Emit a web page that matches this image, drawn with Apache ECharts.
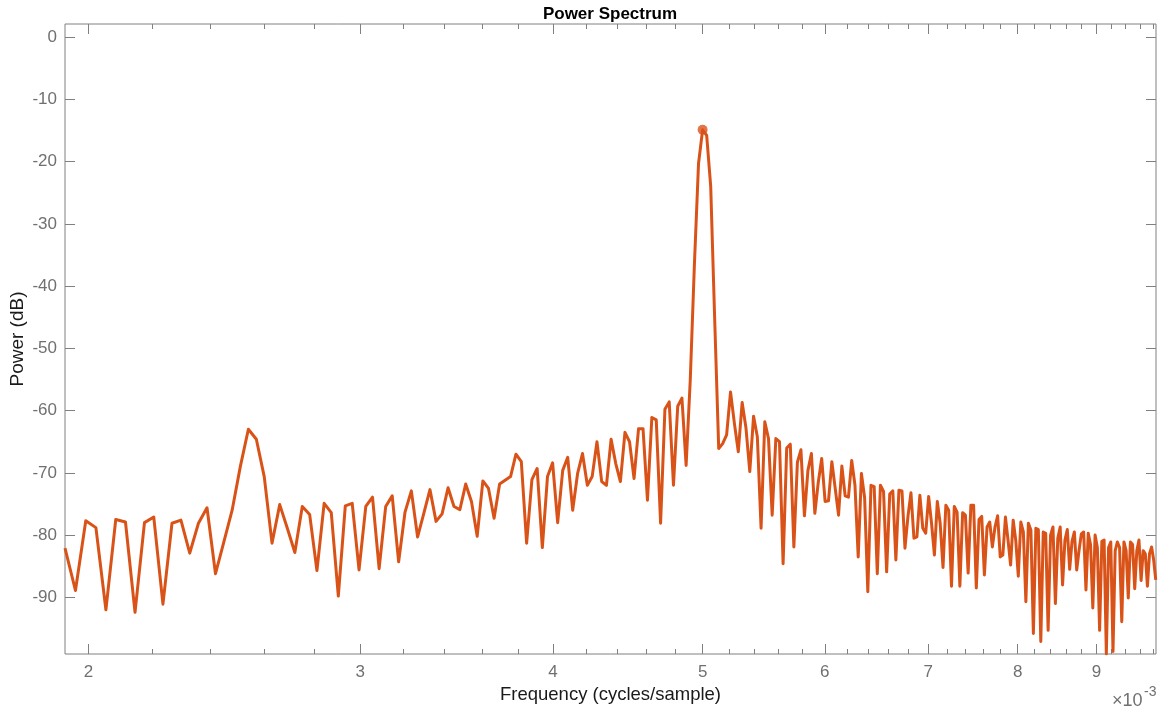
<!DOCTYPE html>
<html>
<head>
<meta charset="utf-8">
<title>Power Spectrum</title>
<script src="https://cdn.jsdelivr.net/npm/echarts@6/dist/echarts.min.js"></script>
<style>
  html, body { margin: 0; padding: 0; background: #ffffff; }
  #chart { width: 1168px; height: 711px; }
</style>
</head>
<body>
<div id="chart"></div>
<script>
// Frequency bins, in units of 1e-3 cycles/sample (uniform FFT grid)
const FREQ_START = 1.931;
const FREQ_STEP = 0.030386;

// Power per bin (dB)
const power = [
  -82.1, -88.9, -77.7, -78.8, -92.0, -77.5, -77.9, -92.4, -78.0, -77.1,
  -91.1, -78.1, -77.6, -82.9, -78.1, -75.6, -86.2, -81.1, -76.0, -69.0,
  -63.0, -64.6, -70.6, -81.3, -75.1, -78.9, -82.8, -75.4, -76.7, -85.7,
  -74.9, -76.4, -89.8, -75.3, -74.9, -85.6, -75.4, -73.9, -85.4, -75.4,
  -73.7, -84.3, -76.3, -72.9, -80.3, -76.5, -72.7, -77.8, -76.6, -72.4,
  -75.4, -75.9, -71.8, -74.6, -80.2, -71.3, -72.5, -77.3, -71.8, -71.2,
  -70.6, -67.0, -68.2, -81.3, -71.1, -69.3, -82.0, -70.6, -68.4, -78.0,
  -69.6, -67.5, -76.0, -70.1, -66.9, -72.0, -70.6, -65.0, -71.4, -72.0,
  -64.6, -68.5, -71.4, -63.5, -65.0, -70.9, -62.9, -62.9, -74.4, -61.1,
  -61.5, -78.1, -59.8, -58.6, -72.0, -59.3, -58.0, -68.8, -55.0, -36.5,
  -20.3, -14.9, -15.8, -24.0, -45.5, -66.1, -65.3, -63.9, -57.0, -62.1,
  -66.6, -58.7, -62.8, -69.8, -60.9, -64.2, -78.9, -61.8, -64.5, -76.8,
  -64.5, -65.0, -84.6, -66.0, -65.4, -81.9, -68.3, -66.3, -76.9, -69.6,
  -66.9, -76.5, -71.5, -67.7, -74.6, -74.5, -68.2, -72.5, -76.8, -68.9,
  -73.7, -73.9, -68.0, -72.0, -83.5, -70.1, -74.0, -89.1, -72.0, -72.2,
  -86.2, -72.0, -73.0, -85.9, -73.4, -72.9, -84.0, -72.8, -72.9, -82.1,
  -77.0, -73.2, -80.5, -80.3, -73.6, -78.9, -79.7, -73.8, -78.1, -83.2,
  -74.6, -78.1, -85.2, -75.2, -76.0, -88.2, -75.4, -76.3, -88.2, -76.4,
  -76.8, -86.1, -75.2, -75.2, -88.5, -77.5, -77.0, -86.4, -78.7, -77.9,
  -81.9, -78.7, -76.9, -83.5, -83.2, -77.1, -80.8, -84.8, -77.6, -80.8,
  -86.6, -77.9, -79.5, -90.7, -78.1, -79.2, -95.8, -78.9, -79.1, -97.1,
  -79.5, -79.7, -95.3, -80.0, -78.7, -91.0, -80.5, -78.7, -88.0, -80.8,
  -79.1, -85.5, -81.0, -79.5, -85.6, -82.5, -79.8, -79.5, -88.8, -79.7,
  -81.5, -91.7, -80.0, -82.0, -95.3, -81.0, -80.8, -99.1, -82.0, -81.1,
  -98.7, -82.5, -81.1, -82.0, -93.9, -81.1, -82.5, -90.1, -81.1, -81.5,
  -88.6, -82.5, -80.8, -87.3, -82.5, -83.0, -88.2, -83.0, -81.9, -84.0,
  -87.2
];

// Axis ticks
const xMajorTicks = [2, 3, 4, 5, 6, 7, 8, 9];
const xMinorTicks = [2.2, 2.4, 2.6, 2.8, 3.2, 3.4, 3.6, 3.8, 4.2, 4.4, 4.6, 4.8,
                     5.2, 5.4, 5.6, 5.8, 6.2, 6.4, 6.6, 6.8, 7.2, 7.4, 7.6, 7.8,
                     8.2, 8.4, 8.6, 8.8, 9.2, 9.4, 9.6, 9.8];
const yTicks = [-90, -80, -70, -60, -50, -40, -30, -20, -10, 0];

const X_RANGE = [1.931, 9.835];
const Y_RANGE = [-99.1, 2.1];

const FONT = '"Liberation Sans", Arial, Helvetica, sans-serif';
const AXIS_GRAY = '#808080';
const LABEL_GRAY = '#707070';
const LINE_COLOR = '#D95319';

const freq = power.map((_, i) => FREQ_START + i * FREQ_STEP);
const lineData = freq.map((f, i) => [f, power[i]]);
const peakIdx = power.indexOf(Math.max(...power));
const peakData = [[freq[peakIdx], power[peakIdx]]];

function xAxisDef(position, ticks, tickLen, withLabels) {
  return {
    type: 'log',
    logBase: 10,
    gridIndex: 0,
    position: position,
    min: X_RANGE[0],
    max: X_RANGE[1],
    axisLine: { show: false, onZero: false },
    splitLine: { show: false },
    minorTick: { show: false },
    axisTick: {
      show: true,
      inside: true,
      length: tickLen,
      customValues: ticks,
      lineStyle: { color: AXIS_GRAY, width: 1 }
    },
    axisLabel: withLabels ? {
      show: true,
      customValues: ticks,
      margin: 10,
      color: LABEL_GRAY,
      fontSize: 17,
      fontFamily: FONT
    } : { show: false }
  };
}

function yAxisDef(position, withLabels) {
  return {
    type: 'value',
    gridIndex: 0,
    position: position,
    min: Y_RANGE[0],
    max: Y_RANGE[1],
    axisLine: { show: false, onZero: false },
    splitLine: { show: false },
    axisTick: {
      show: true,
      inside: true,
      length: 10,
      customValues: yTicks,
      lineStyle: { color: AXIS_GRAY, width: 1 }
    },
    axisLabel: withLabels ? {
      show: true,
      customValues: yTicks,
      margin: 8,
      color: LABEL_GRAY,
      fontSize: 17,
      fontFamily: FONT
    } : { show: false }
  };
}

const xMain = xAxisDef('bottom', xMajorTicks, 10, true);
xMain.name = 'Frequency (cycles/sample)';
xMain.nameLocation = 'middle';
xMain.nameGap = 31;
xMain.nameMoveOverlap = false;
xMain.nameTextStyle = { fontSize: 18.5, color: '#1a1a1a', fontFamily: FONT };

const yMain = yAxisDef('left', true);
yMain.name = 'Power (dB)';
yMain.nameLocation = 'middle';
yMain.nameGap = 38;
yMain.nameRotate = 90;
yMain.nameMoveOverlap = false;
yMain.nameTextStyle = { fontSize: 19, color: '#1a1a1a', fontFamily: FONT };

const chart = echarts.init(document.getElementById('chart'), null, { renderer: 'canvas' });

chart.setOption({
  animation: false,
  backgroundColor: '#ffffff',
  title: {
    text: 'Power Spectrum',
    left: 610,
    top: 6,
    textAlign: 'center',
    padding: 0,
    textStyle: { fontSize: 17, fontWeight: 'bold', color: '#000000', fontFamily: FONT }
  },
  grid: {
    left: 65, right: 12, top: 24, bottom: 57,
    containLabel: false,
    outerBoundsMode: 'none',
    show: true,
    borderColor: AXIS_GRAY,
    borderWidth: 1,
    backgroundColor: 'transparent'
  },
  xAxis: [
    xMain,
    xAxisDef('bottom', xMinorTicks, 5, false),
    xAxisDef('top', xMajorTicks, 10, false),
    xAxisDef('top', xMinorTicks, 5, false)
  ],
  yAxis: [
    yMain,
    yAxisDef('right', false)
  ],
  graphic: [
    {
      type: 'text',
      left: 1112,
      top: 692,
      style: { text: '\u00d710', fontSize: 18, fill: LABEL_GRAY, fontFamily: FONT }
    },
    {
      type: 'text',
      left: 1144,
      top: 685,
      style: { text: '-3', fontSize: 14, fill: LABEL_GRAY, fontFamily: FONT }
    }
  ],
  series: [
    {
      type: 'line',
      xAxisIndex: 0,
      yAxisIndex: 0,
      data: lineData,
      showSymbol: false,
      symbol: 'none',
      clip: true,
      lineStyle: { color: LINE_COLOR, width: 3, join: 'round' },
      silent: true,
      z: 2
    },
    {
      type: 'scatter',
      xAxisIndex: 0,
      yAxisIndex: 0,
      data: peakData,
      symbol: 'circle',
      symbolSize: 10,
      itemStyle: { color: LINE_COLOR },
      silent: true,
      z: 3
    }
  ]
});
</script>
</body>
</html>
